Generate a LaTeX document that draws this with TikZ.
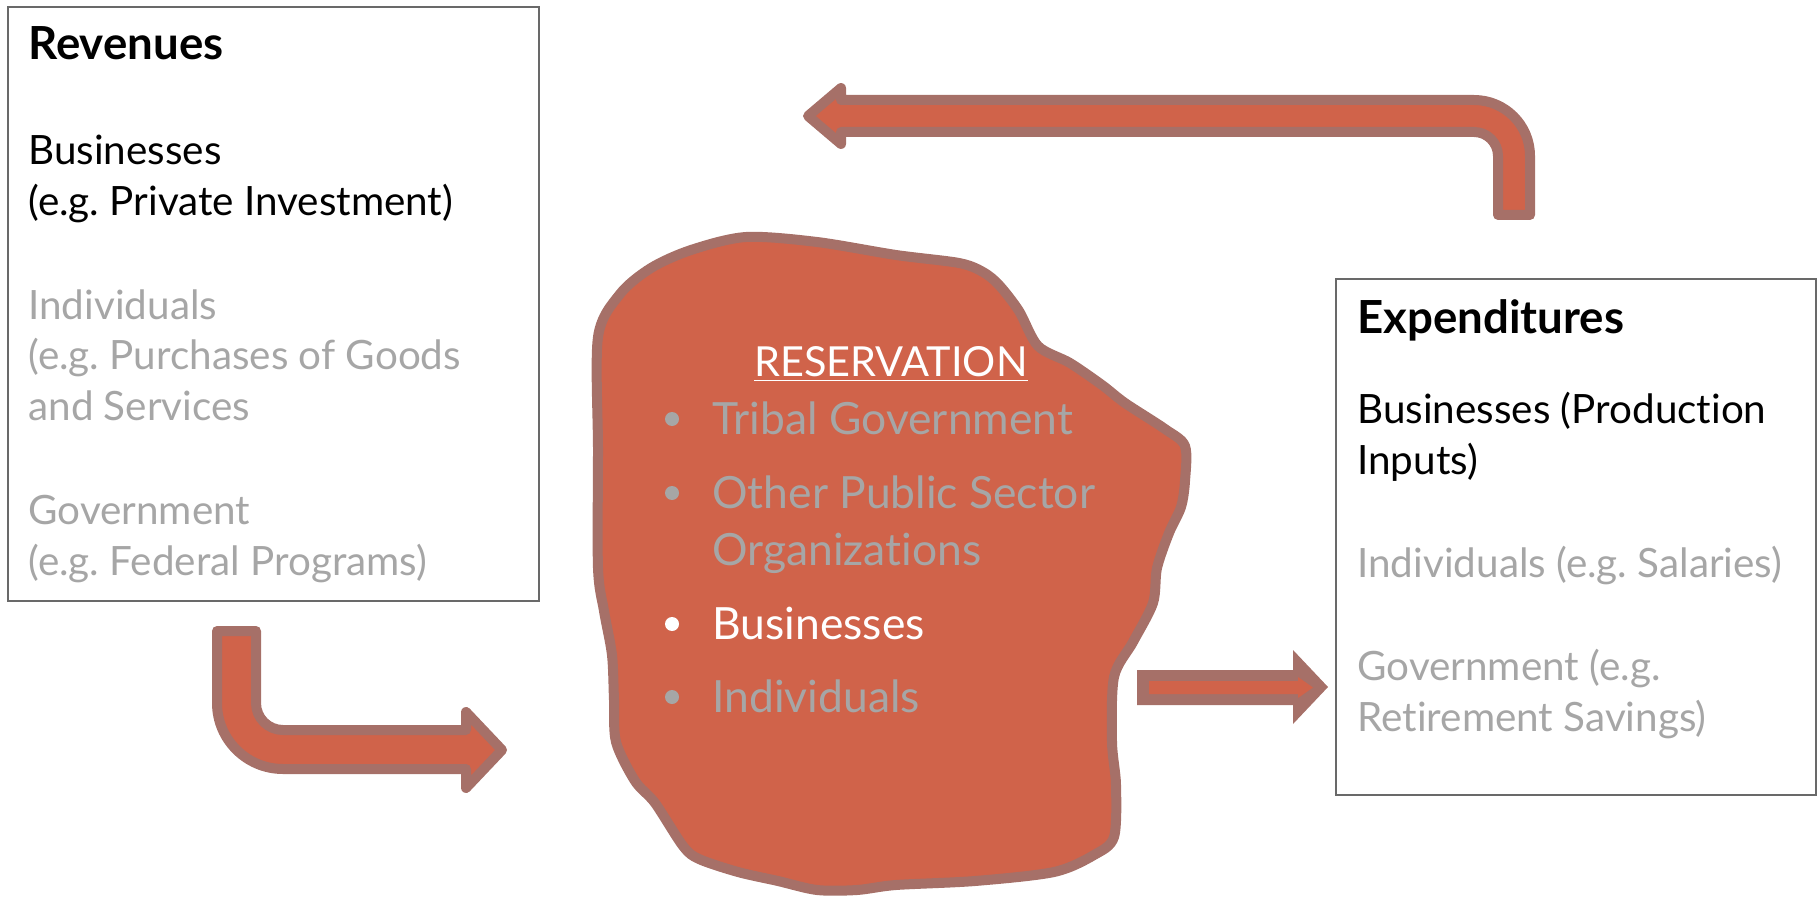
\documentclass[tikz,border=0pt]{standalone}
\usepackage{fontspec}
\setmainfont{Lato}[Ligatures=NoCommon]
\usepackage{tikz}
\frenchspacing

\definecolor{blobfill}{RGB}{208,99,74}
\definecolor{blobedge}{RGB}{166,112,104}
\definecolor{softgray}{RGB}{166,166,166}
\definecolor{framegray}{RGB}{105,105,105}

\begin{document}
\begin{tikzpicture}[x=0.5pt,y=-0.5pt,
    frame/.style={draw=framegray,line width=0.7pt},
    flowarrow/.style={draw=blobedge,fill=blobfill,line width=5pt,line join=round},
    heading/.style={anchor=base west,inner sep=0pt,font=\fontsize{22.8}{25}\selectfont\bfseries},
    body/.style={anchor=base west,inner sep=0pt,align=left,font=\fontsize{20.2}{25.5}\selectfont},
    blobtext/.style={anchor=base west,inner sep=0pt,align=left,font=\fontsize{22.2}{28.5}\selectfont},
    dot/.style={circle,inner sep=0pt,minimum size=7pt}]

    \useasboundingbox (0,0) rectangle (1819,898);

    % revenues box
    \draw[frame] (8,7) rectangle (539,601);
    \node[heading] (rev) at (28,60) {Revenues};
    \node[body] (revbus) at (28,216) {Businesses\\(e.g. Private Investment)};
    \node[body,softgray] (revind) at (28,421) {Individuals\\(e.g. Purchases of Goods\\and Services};
    \node[body,softgray] (revgov) at (28,575) {Government\\(e.g. Federal Programs)};

    % expenditures box
    \draw[frame] (1336,279) rectangle (1816,795);
    \node[heading] (exp) at (1357,334) {Expenditures};
    \node[body] (expbus) at (1357,474) {Businesses (Production\\Inputs)};
    \node[body,softgray] (expind) at (1357,577) {Individuals (e.g. Salaries)};
    \node[body,softgray] (expgov) at (1357,731) {Government (e.g.\\Retirement Savings)};

    % reservation
    \draw[flowarrow] plot[smooth cycle,tension=0.5] coordinates {
      (598,337) (598,450) (598,568) (604,611) (612,655) (614,700) (616,742)
      (635,781) (655,803) (683,846) (699,859) (738,872) (778,881) (817,890)
      (857,890) (896,885) (975,881) (1054,872) (1094,855) (1114,837)
      (1116,785) (1112,742) (1114,677) (1133,642) (1153,603) (1157,568)
      (1169,533) (1181,507) (1185,481) (1185,446) (1165,429) (1125,403)
      (1102,385) (1070,363) (1038,346) (1019,311) (999,285) (983,272)
      (959,263) (896,255) (817,242) (746,237) (691,250) (651,268) (620,294)};
    \node[anchor=base,inner sep=0pt,white,font=\fontsize{20.7}{25}\selectfont] (res) at (891,377) {\underline{RESERVATION}};
    \node[blobtext,softgray] (tribal) at (712,434) {Tribal Government};
    \node[blobtext,softgray] (public) at (712,565) {Other Public Sector\\Organizations};
    \node[blobtext,white] (bus) at (712,639) {Businesses};
    \node[blobtext,softgray] (ind) at (712,712) {Individuals};
    \foreach \yy/\cc in {419/softgray,493/softgray,624/white,697/softgray}
      \node[dot,fill=\cc] at (672,\yy) {};

    % flows
    \draw[flowarrow] (808,116) -- (841,88) -- (841,100) -- (1474,100) arc (270:360:56)
      -- (1530,215) -- (1498,215) -- (1498,156) arc (0:-90:24) -- (841,132) -- (841,144) -- cycle;
    \draw[flowarrow] (217,631) -- (217,703) arc (180:90:66) -- (466,769) -- (466,788)
      -- (502,750) -- (466,712) -- (466,730) -- (283,730) arc (90:180:27) -- (256,631) -- cycle;
    \fill[blobedge] (1137,670) -- (1293,670) -- (1293,650) -- (1328,687) -- (1293,724)
      -- (1293,705) -- (1137,705) -- cycle;
    \fill[blobfill] (1149,681) -- (1298,681) -- (1298,677) -- (1313,687.5) -- (1298,698)
      -- (1298,694) -- (1149,694) -- cycle;
\end{tikzpicture}
\end{document}
